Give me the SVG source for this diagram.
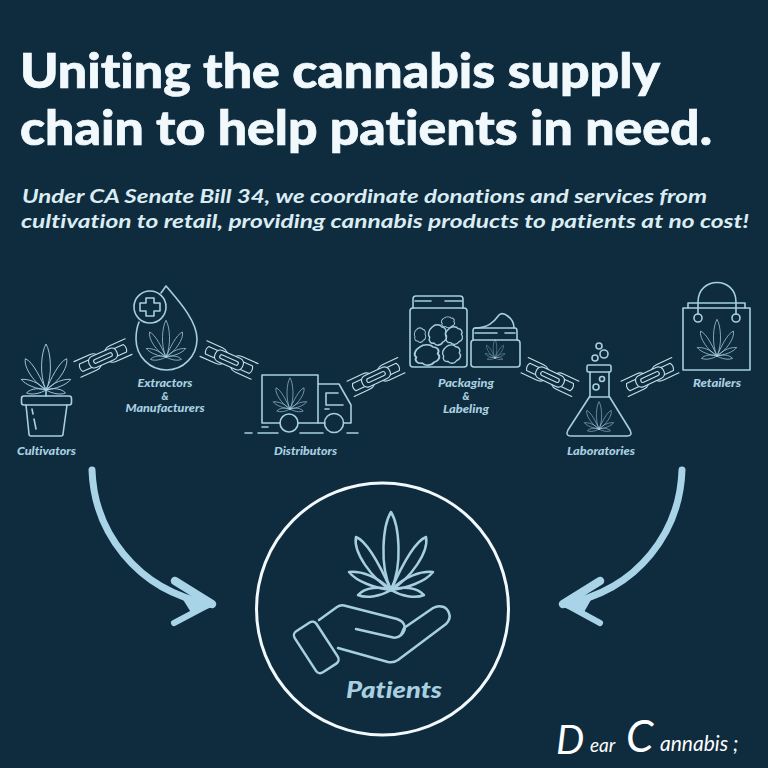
<svg xmlns="http://www.w3.org/2000/svg" width="768" height="768" viewBox="0 0 768 768">
<style>
.ln{fill:none;stroke:#a6cfdf;stroke-width:1.6;stroke-linecap:round;stroke-linejoin:round}
.ln *{vector-effect:non-scaling-stroke}
.ch{fill:none;stroke:#c4e0ea;stroke-width:1.1;stroke-linecap:round;stroke-linejoin:round}
text{font-variant-ligatures:none}
.t{font-family:"Lato","Liberation Sans",sans-serif;font-weight:900;font-size:47px;fill:#f1f9fc;stroke:#f1f9fc;stroke-width:.7}
.s{font-family:"Lato","Liberation Sans",sans-serif;font-weight:700;font-style:italic;font-size:19.500px;fill:#dbecf3}
.l{font-family:"Lato","Liberation Sans",sans-serif;font-weight:900;font-style:italic;font-size:10.500px;fill:#a9d0e0;text-anchor:middle}
.arrow{fill:none;stroke:#a9d3e6;stroke-linecap:round;stroke-linejoin:round}
.sg{font-family:"Lato",sans-serif;font-weight:400;font-style:italic;fill:#fff}
</style>
<defs>
<g id="leaf">
<path d="M0,0C-12,-25 -8,-65 0,-78C8,-65 12,-25 0,0Z"/>
<path d="M0,0C-8,-18 -22,-48 -35,-53C-38,-38 -20,-12 0,0Z"/>
<path d="M0,0C8,-18 22,-48 35,-53C38,-38 20,-12 0,0Z"/>
<path d="M0,0C-14,-14 -30,-19 -42,-18C-34,-8 -16,-2 0,0Z"/>
<path d="M0,0C14,-14 30,-19 42,-18C34,-8 16,-2 0,0Z"/>
<path d="M0,0C-10,-4 -26,-3 -33,5C-24,9 -10,6 0,0Z"/>
<path d="M0,0C10,-4 26,-3 33,5C24,9 10,6 0,0Z"/>
</g>
<g id="chain" class="ch">
<path d="M-28,-8.500H-11Q-3,-8.500 -3,0Q-3,8.500 -11,8.500H-28"/>
<path d="M-24,-4H-11Q-7.500,-4 -7.500,0Q-7.500,4 -11,4H-24Q-26.500,0 -24,-4"/>
<path d="M28,-8.500H11Q3,-8.500 3,0Q3,8.500 11,8.500H28"/>
<path d="M24,-4H11Q7.500,-4 7.500,0Q7.500,4 11,4H24Q26.500,0 24,-4"/>
<rect x="-15" y="-6" width="30" height="12" rx="5" fill="#0f2c3f"/>
<rect x="-10" y="-2" width="20" height="4" rx="2"/>
</g>
<path id="bud" d="M-6,-9C-3,-12 3,-12 5,-9C9,-9 11,-5 9,-2C12,1 10,6 6,7C4,11 -2,11 -4,8C-8,9 -11,5 -9,2C-12,-1 -10,-6 -6,-9Z"/>
</defs>
<rect width="768" height="768" fill="#0f2c3f"/>
<g id="title">
<text class="t" x="20" y="88" textLength="640" lengthAdjust="spacingAndGlyphs">Uniting the cannabis supply</text>
<text class="t" x="20" y="145" textLength="692" lengthAdjust="spacingAndGlyphs">chain to help patients in need.</text>
</g>
<g id="subtitle">
<text class="s" x="22" y="203" textLength="685" lengthAdjust="spacingAndGlyphs">Under CA Senate Bill 34, we coordinate donations and services from</text>
<text class="s" x="21" y="228" textLength="728" lengthAdjust="spacingAndGlyphs">cultivation to retail, providing cannabis products to patients at no cost!</text>
</g>
<g id="connectors">
<use href="#chain" transform="translate(103,358) rotate(-24)"/>
<use href="#chain" transform="translate(229,360) rotate(24)"/>
<use href="#chain" transform="translate(376,377) rotate(-25)"/>
<use href="#chain" transform="translate(550,377) rotate(25)"/>
<use href="#chain" transform="translate(650,377) rotate(-25)"/>
<path class="arrow" stroke-width="7" d="M92,470C94,530 135,590 210,604"/>
<path class="arrow" stroke-width="8.500" d="M175,581L212,604"/>
<path class="arrow" stroke-width="6" d="M174,623L208,605"/>
<path d="M182,598L215,602L212,607L192,614Z" fill="#a9d3e6"/>
<path class="arrow" stroke-width="7" d="M682,470C680,530 640,590 564,604"/>
<path class="arrow" stroke-width="8.500" d="M600,581L563,604"/>
<path class="arrow" stroke-width="6" d="M600,623L567,605"/>
<path d="M592,598L560,602L563,607L583,614Z" fill="#a9d3e6"/>
</g>
<g id="cultivators">
<g class="ln">
<use href="#leaf" transform="translate(46,390) scale(.59)"/>
<path d="M46,390V396"/>
<rect x="21.500" y="396" width="50" height="9" rx="2.500"/>
<path d="M26,405L29,434Q29,436 31,436H61Q63,436 63,434L67,405"/>
<path d="M32,409L33,414M34,419L36,429"/>
</g>
<text class="l" x="46.500" y="455" textLength="59" lengthAdjust="spacingAndGlyphs">Cultivators</text>
</g>
<g id="extractors">
<g class="ln">
<path d="M161,293L166,286C176,298 197,320 197,339A30.500,31 0 0 1 136,339C136,332 137,327 139,322"/>
<circle cx="150" cy="307" r="16"/>
<path d="M146,298H154V303H160V311H154V316H146V311H140V303H146Z"/>
<use href="#leaf" transform="translate(166,357) scale(.47)"/>
</g>
<text class="l" x="165" y="387" textLength="55" lengthAdjust="spacingAndGlyphs">Extractors</text>
<text class="l" x="165" y="400">&amp;</text>
<text class="l" x="165" y="412" textLength="79" lengthAdjust="spacingAndGlyphs">Manufacturers</text>
</g>
<g id="distributors">
<g class="ln">
<path d="M280,423H262V375H318V423H298"/>
<path d="M318,384H339L351,405V423H344"/>
<path d="M318,423H325"/>
<path d="M343,405H326V393H338"/>
<path d="M325,409H329"/>
<circle cx="289" cy="423" r="9"/>
<circle cx="334" cy="423" r="9.500"/>
<path d="M245,433H252M258,433H278M300,433H323M347,433H358M262,427H268"/>
<use href="#leaf" transform="translate(290,409) scale(.4)"/>
</g>
<text class="l" x="305.500" y="455" textLength="63" lengthAdjust="spacingAndGlyphs">Distributors</text>
</g>
<g id="packaging">
<g class="ln">
<rect x="410" y="308" width="57" height="59" rx="3"/>
<path d="M413,308V299Q413,296 416,296H460Q463,296 463,299V308"/>
<path d="M415,301H431M445,301H462"/>
<use href="#bud" transform="translate(420,335.500) scale(.55,.68)"/>
<use href="#bud" transform="translate(437.500,335.500) scale(.86,.95)"/>
<use href="#bud" transform="translate(448,322.500) scale(.64,.5)"/>
<use href="#bud" transform="translate(454,336) scale(.82)"/>
<use href="#bud" transform="translate(427,355.500) scale(1.18,.95)"/>
<use href="#bud" transform="translate(451.500,354.500) scale(.86)"/>
<rect x="471" y="340" width="49" height="27" rx="3"/>
<path d="M473,340V331Q473,328 475,328H515Q517,328 517,331V340"/>
<path d="M475,333H497M505,333H515"/>
<path d="M475,328C488,328 494,322 499,315C503,311 514,318 514,328"/>
<use href="#leaf" transform="translate(495,358) scale(.24)"/>
</g>
<text class="l" x="466" y="387" textLength="56" lengthAdjust="spacingAndGlyphs">Packaging</text>
<text class="l" x="466" y="400">&amp;</text>
<text class="l" x="466" y="413" textLength="46" lengthAdjust="spacingAndGlyphs">Labeling</text>
</g>
<g id="laboratories">
<g class="ln">
<rect x="587" y="365" width="24" height="7" rx="1.500"/>
<path d="M590,372V396L568,430Q565,436 571,436H627Q633,436 630,430L609,396V372"/>
<path d="M590,397H609"/>
<circle cx="599" cy="346" r="3"/><circle cx="604" cy="354" r="4"/><circle cx="595" cy="358" r="3"/><circle cx="602" cy="379" r="2.500"/><circle cx="596" cy="387" r="3"/>
<use href="#leaf" transform="translate(599,429) scale(.35)"/>
</g>
<text class="l" x="601" y="455" textLength="68" lengthAdjust="spacingAndGlyphs">Laboratories</text>
</g>
<g id="retailers">
<g class="ln">
<rect x="683" y="308" width="67" height="62"/>
<path d="M688,308V303H745V308"/>
<path d="M698,314V302C698,276 736,276 736,302V314"/>
<circle cx="698" cy="318" r="4"/><circle cx="736" cy="318" r="4"/>
<use href="#leaf" transform="translate(717,356) scale(.47)"/>
</g>
<text class="l" x="717" y="387" textLength="48" lengthAdjust="spacingAndGlyphs">Retailers</text>
</g>
<g id="patients">
<circle cx="382.500" cy="609" r="126" fill="none" stroke="#f1f9fc" stroke-width="3"/>
<g class="ln" style="stroke-width:2.500">
<use href="#leaf" transform="translate(391,590)"/>
<rect x="303" y="623" width="26" height="49" rx="5" transform="rotate(-33 316 647)"/>
<path d="M319,620L337,607Q341,604 346,606L397,619C406,622 407,630 401,635C398,638 394,638 391,637L356,629"/>
<path d="M401,635L404,628L433,608C440,604 447,607 449,613C451,618 449,621 446,624L398,660C395,662 392,663 388,662L338,648"/>
</g>
<text class="l" x="394" y="698" style="font-size:22px" textLength="96" lengthAdjust="spacingAndGlyphs">Patients</text>
</g>
<g id="signature">
<text class="sg" x="556" y="754" font-size="40">D</text>
<text class="sg" x="590" y="752" font-size="19">ear</text>
<text class="sg" x="626" y="752" font-size="44">C</text>
<text class="sg" x="660" y="751" font-size="21">annabis ;</text>
</g>
</svg>
